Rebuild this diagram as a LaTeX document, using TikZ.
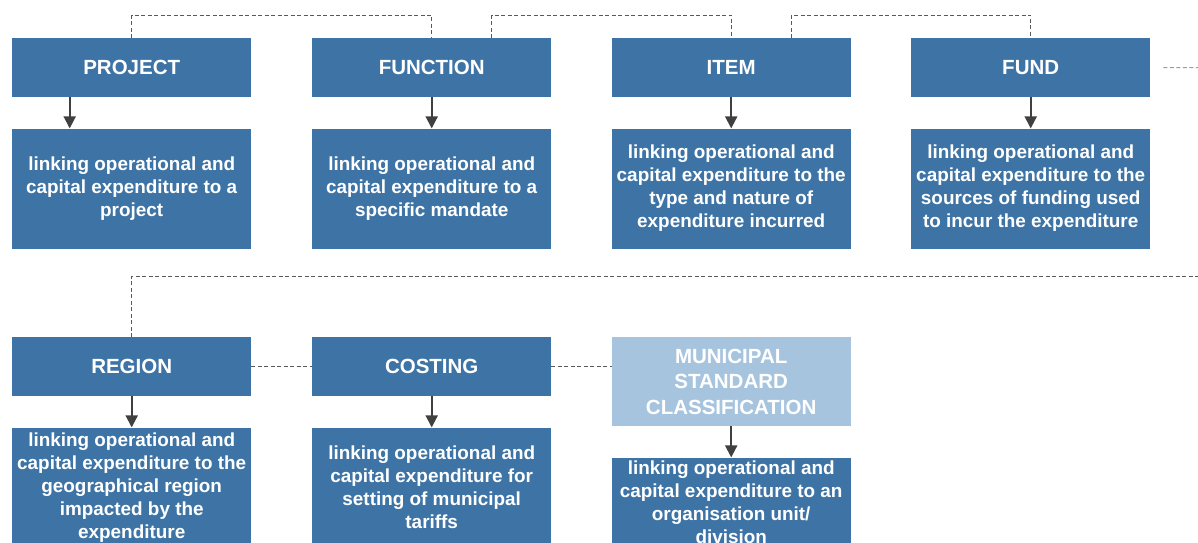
\documentclass[tikz,border=0pt]{standalone}
\usepackage{fontspec}
\setmainfont{Liberation Sans}
\usetikzlibrary{arrows.meta,calc,positioning}

\definecolor{boxblue}{HTML}{3E74A5}
\definecolor{boxlight}{HTML}{A7C4DE}
\definecolor{linegray}{HTML}{595959}
\definecolor{arrowgray}{HTML}{404040}

\tikzset{
    hdr/.style={fill=boxblue, text=white, anchor=north west, inner sep=0pt,
        minimum width=239pt, minimum height=59pt, align=center,
        font=\fontsize{20.5}{25.5}\selectfont\bfseries},
    hdrlight/.style={hdr, fill=boxlight, minimum height=89pt},
    desc/.style={fill=boxblue, text=white, inner sep=0pt,
        minimum width=239pt, minimum height=120pt, align=center,
        font=\fontsize{18.9}{23}\selectfont\bfseries},
    link/.style={draw=linegray, line width=1pt, dash pattern=on 4pt off 2.5pt},
    linklight/.style={link, draw=linegray!60},
    down/.style={draw=arrowgray, line width=2pt,
        -{Triangle[width=12pt,length=12pt]}}
}

\begin{document}
\begin{tikzpicture}[x=1pt,y=-1pt]
        \useasboundingbox (0,0) rectangle (1198,542);
        \clip (0,0) rectangle (1198,542);

        \node[hdr] (project) at (12,38) {PROJECT};
        \node[hdr] (function) at (312,38) {FUNCTION};
        \node[hdr] (item) at (611.5,38) {ITEM};
        \node[hdr] (fund) at (911,38) {FUND};

        \node[hdr] (region) at (12,337) {REGION};
        \node[hdr] (costing) at (312,337) {COSTING};
        \node[hdrlight] (msc) at (611.5,337) {MUNICIPAL\\STANDARD\\CLASSIFICATION};

        \node[desc, below=31pt of project] (projectd) {linking operational and\\capital expenditure to a\\project};
        \node[desc, below=31pt of function] (functiond) {linking operational and\\capital expenditure to a\\specific mandate};
        \node[desc, below=31pt of item] (itemd) {linking operational and\\capital expenditure to the\\type and nature of\\expenditure incurred};
        \node[desc, below=31pt of fund] (fundd) {linking operational and\\capital expenditure to the\\sources of funding used\\to incur the expenditure};

        \node[desc, below=31pt of region] (regiond) {linking operational and\\capital expenditure to the\\geographical region\\impacted by the\\expenditure};
        \node[desc, below=31pt of costing] (costingd) {linking operational and\\capital expenditure for\\setting of municipal\\tariffs};
        \node[desc, minimum height=90pt, below=31pt of msc] (mscd) {linking operational and\\capital expenditure to an\\organisation unit/\\division};

        \coordinate (fundend) at (1198,67.5);
        \coordinate (rowend) at (1198,276);

        \draw[link] (project.north) -- ++(0,-23) -| (function.north);
        \draw[link] ($(function.north west)!.75!(function.north east)$) -- ++(0,-23) -| (item.north);
        \draw[link] ($(item.north west)!.75!(item.north east)$) -- ++(0,-23) -| (fund.north);
        \draw[linklight] ([xshift=13pt]fund.east) -- (fundend);

        \draw[link] (region.north) |- (rowend);
        \draw[link] (region.east) -- (costing.west);
        \draw[link] (costing.east) -- (costing.east -| msc.west);

        \draw[down] ([xshift=-62pt]project.south) -- ([xshift=-62pt]projectd.north);
        \draw[down] (function.south) -- (functiond.north);
        \draw[down] (item.south) -- (itemd.north);
        \draw[down] (fund.south) -- (fundd.north);
        \draw[down] (region.south) -- (regiond.north);
        \draw[down] (costing.south) -- (costingd.north);
        \draw[down] (msc.south) -- (mscd.north);
\end{tikzpicture}
\end{document}
